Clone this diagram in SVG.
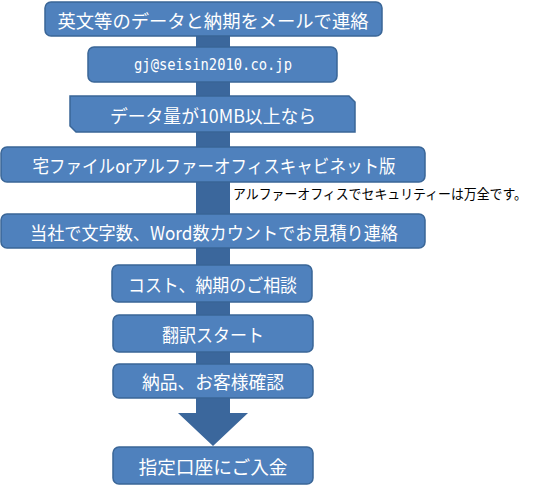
<svg xmlns="http://www.w3.org/2000/svg" width="543" height="488" viewBox="0 0 543 488">
<style>
.box{fill:#4F81BD;stroke:#3A6697;stroke-width:1.5}
.t{fill:#ffffff;font-family:"Noto Sans CJK JP","Noto Sans",sans-serif;font-size:18px;text-anchor:middle;dominant-baseline:central}
.m{fill:#ffffff;font-family:"DejaVu Sans Mono","Liberation Mono",monospace;font-size:15px;text-anchor:middle;dominant-baseline:central}
.a{fill:#000000;font-family:"Noto Sans CJK JP","Noto Sans",sans-serif;font-size:13.5px}
.conn{fill:#3B679C}
</style>
<rect width="543" height="488" fill="#ffffff"/>
<g id="connectors">
<path class="conn" d="M196,30 H230 V413 H248 L213,446 L178,413 H196 Z"/>
</g>
<g id="n1"><rect class="box" x="45" y="2" width="337" height="34" rx="6"/><text class="t" x="213" y="19.5" textLength="311" lengthAdjust="spacingAndGlyphs">英文等のデータと納期をメールで連絡</text></g>
<g id="n2"><rect class="box" x="88" y="47" width="249" height="35" rx="6"/><text class="m" x="213" y="65" textLength="158" lengthAdjust="spacingAndGlyphs">gj@seisin2010.co.jp</text></g>
<g id="n3"><path class="box" d="M70,96 H349 L355,102 V132 H76 L70,126 Z"/><text class="t" x="213" y="114.5" textLength="206" lengthAdjust="spacingAndGlyphs">データ量が10MB以上なら</text></g>
<g id="n4"><rect class="box" x="1" y="147" width="424" height="35" rx="6"/><text class="t" x="214" y="164.5" textLength="363" lengthAdjust="spacingAndGlyphs">宅ファイルorアルファーオフィスキャビネット版</text></g>
<g id="note"><text class="a" x="233" y="199" textLength="294" lengthAdjust="spacingAndGlyphs">アルファーオフィスでセキュリティーは万全です。</text></g>
<g id="n5"><rect class="box" x="1" y="214" width="424" height="34" rx="6"/><text class="t" x="214" y="231.5" textLength="368" lengthAdjust="spacingAndGlyphs">当社で文字数、Word数カウントでお見積り連絡</text></g>
<g id="n6"><rect class="box" x="112" y="265" width="200" height="37" rx="6"/><text class="t" x="212.5" y="283.5" textLength="169" lengthAdjust="spacingAndGlyphs">コスト、納期のご相談</text></g>
<g id="n7"><rect class="box" x="113" y="315" width="200" height="37" rx="6"/><text class="t" x="213" y="333.5" textLength="102" lengthAdjust="spacingAndGlyphs">翻訳スタート</text></g>
<g id="n8"><rect class="box" x="113" y="364" width="200" height="34" rx="6"/><text class="t" x="213" y="381" textLength="142" lengthAdjust="spacingAndGlyphs">納品、お客様確認</text></g>
<g id="n9"><rect class="box" x="113" y="447" width="200" height="37" rx="6"/><text class="t" x="213" y="465.5" textLength="149" lengthAdjust="spacingAndGlyphs">指定口座にご入金</text></g>
</svg>
